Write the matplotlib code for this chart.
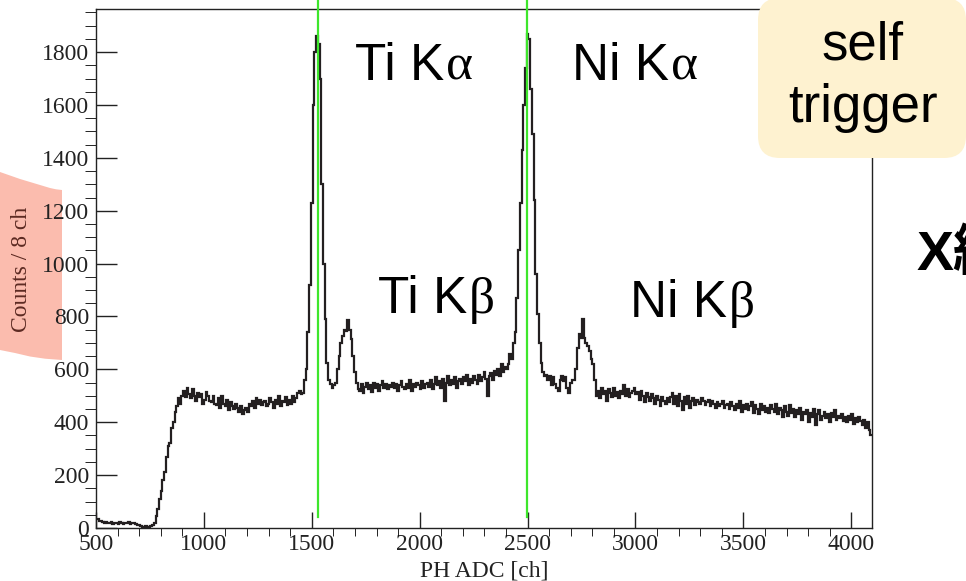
import numpy as np
import matplotlib
matplotlib.use("Agg")
import matplotlib.pyplot as plt
from matplotlib.patches import FancyBboxPatch, Polygon
from matplotlib.transforms import IdentityTransform

# histogram: 8 ch per bin starting at 504
bin_start = 504
bin_width = 8

# 504 - 904: threshold region
counts_low = [35, 25, 28, 22, 20, 24, 18, 20, 22, 16, 18, 20, 15, 22, 18, 15, 20, 18, 24, 16,
              18, 20, 14, 12, 10, 8, 5, 4, 6, 3, 5, 6, 10, 20, 45, 70, 110, 140, 180, 210,
              270, 310, 320, 380, 400, 440, 460, 490, 470, 500]
# 904 - 1456: flat part before Ti
counts_plateau = [520, 495, 530, 505, 490, 525, 500, 480, 510, 495, 505, 470, 485, 515, 500, 480, 475, 500, 470,
                  465, 490, 455, 500, 470, 460, 485, 445, 475, 460, 450, 470, 455, 440, 460, 430, 445, 455, 440,
                  470, 460, 480, 455, 490, 470, 485, 465, 475, 480, 460, 470, 490, 475, 455, 485, 470, 500,
                  460, 480, 475, 495, 465, 485, 470, 500, 475, 490, 510, 520, 505]
# 1456 - 1720: Ti Ka + Ti Kb
counts_ti = [510, 560, 600, 740, 920, 1230, 1600, 1800, 1860, 1830, 1700, 1300, 1000, 790, 625, 560,
             545, 530, 540, 550, 600, 650, 700, 725, 750, 745, 785, 750, 715, 650, 590, 550, 525]
# 1720 - 2400
counts_mid = [520, 545, 510, 535, 550, 525, 540, 515, 550, 530, 545, 520, 540, 555, 530, 545, 525, 540, 535,
              550, 530, 545, 520, 540, 555, 535, 525, 545, 530, 560, 520, 545, 535, 550, 540, 525, 555, 530, 545,
              550, 535, 560, 525, 545, 570, 540, 555, 530, 565, 480, 550, 575, 540, 560, 545, 570, 530, 555, 565,
              545, 570, 555, 580, 540, 565, 550, 575, 560, 545, 580, 555, 570, 590, 565, 500, 575, 585, 560, 595,
              580, 600, 575, 620, 590, 610]
# 2400 - 2584: Ni Ka
counts_ni_a = [600, 620, 660, 640, 700, 740, 870, 1050, 1230, 1430, 1600, 1740, 1870, 1850, 1660, 1490,
               1240, 960, 810, 700, 625, 590, 575]
# 2584 - 2712
counts_gap = [580, 560, 575, 540, 570, 545, 530, 520, 560, 575, 555, 570, 530, 510, 550, 560]
# 2712 - 2832: Ni Kb
counts_ni_b = [560, 600, 680, 735, 720, 790, 720, 700, 690, 670, 640, 620, 560, 500, 520]
# 2832 - 4096: tail
counts_tail = [490, 530, 505, 520, 480, 525, 510, 495, 530, 500, 515, 490, 520, 505, 540, 500, 525, 495, 510, 520,
               530, 505, 515, 485, 520, 500, 475, 510, 495, 480, 505, 490, 470, 500, 485, 460, 495, 480, 470, 490,
               475, 495, 510, 470, 500, 460, 505, 480, 445, 495, 470, 500, 455, 480, 490, 465, 485, 475, 470, 490,
               480, 465, 475, 485, 460, 480, 470, 455, 475, 460, 470, 480, 455, 465, 470, 450, 475, 460, 445, 470,
               455, 480, 440, 465, 450, 470, 445, 460, 475, 435, 465, 450, 430, 470, 445, 460, 440, 455, 435, 465,
               450, 440, 470, 430, 455, 445, 420, 460, 440, 425, 465, 435, 450, 420, 445, 430, 455, 410, 440, 430,
               445, 400, 435, 420, 450, 390, 430, 445, 410, 425, 440, 415, 430, 400, 435, 420, 445, 410, 425, 415,
               430, 405, 420, 400, 425, 410, 430, 395, 415, 400, 420, 405, 390, 410, 380, 400, 370, 350]

counts = np.concatenate([counts_low, counts_plateau, counts_ti, counts_mid,
                         counts_ni_a, counts_gap, counts_ni_b, counts_tail])
edges = bin_start + bin_width * np.arange(len(counts) + 1)

# Ka peak markers
ka_lines = [1529, 2498]

peak_names = ["Ti K", "Ni K", "Ti K", "Ni K"]
peak_greek = ["\u03b1", "\u03b1", "\u03b2", "\u03b2"]
x_ticks = [500, 1000, 1500, 2000, 2500, 3000, 3500, 4000]
y_ticks = [0, 200, 400, 600, 800, 1000, 1200, 1400, 1600, 1800]

W, H = 966, 581
fig = plt.figure(figsize=(W / 100, H / 100), dpi=100)
ax = fig.add_axes([96 / W, 1 - 528 / H, 776 / W, 519 / H])
ax.patch.set_alpha(0)

ax.stairs(counts, edges, baseline=None, color="#231f20", lw=1.6)

for x in ka_lines:
    ax.plot([x, x], [40, 2100], color="#3ee62c", lw=1.6, clip_on=False, zorder=3)

ax.set_xlim(500, 4096)
ax.set_ylim(0, 1963)
ax.set_xticks(x_ticks)
ax.set_yticks(y_ticks)
ax.set_xticks(np.arange(500, 4097, 100), minor=True)
ax.set_yticks(np.arange(0, 1963, 50), minor=True)

serif = "Liberation Serif"
ax.tick_params(direction="in", top=False, right=False, width=1, colors="#222222")
ax.tick_params(axis="y", which="major", length=15, pad=5)
ax.tick_params(axis="y", which="minor", length=8)
ax.tick_params(axis="x", which="major", length=11.5, pad=4)
ax.tick_params(axis="x", which="minor", length=6)
for lab in ax.get_xticklabels() + ax.get_yticklabels():
    lab.set_fontfamily(serif)
    lab.set_fontsize(17)
for s in ax.spines.values():
    s.set_linewidth(1.0)
    s.set_color("#222222")

ident = IdentityTransform()

def px(x, y_top):
    # image pixel (from top) -> display coords
    return (x, H - y_top)

# pink shape behind the y title (part of a slide shape)
pink_pts = [px(0, 172), px(10, 175.5), px(20, 179), px(30, 182), px(40, 185), px(50, 188),
            px(56, 189.3), px(62, 190), px(62, 360), px(45, 358.7), px(30, 356.5),
            px(15, 353), px(0, 350)]
fig.patches.append(Polygon(pink_pts, closed=True, transform=ident,
                           facecolor="#fbbcae", edgecolor="none", zorder=-1))

fig.text(22 / W, 1 - 269 / H, "Counts / 8 ch", rotation=90, ha="center", va="center",
         fontfamily=serif, fontsize=17, color="#5c2a22")
fig.text(484 / W, 1 - 571 / H, "PH ADC [ch]", ha="center", va="center",
         fontfamily=serif, fontsize=17, color="#222222")

# peak labels: latin part in sans, greek letter in serif
sans = "Liberation Sans"
label_pos = [(355, 80), (572, 80), (378, 313), (630, 317)]
renderer = fig.canvas.get_renderer()
for name, greek, (lx, ly) in zip(peak_names, peak_greek, label_pos):
    t = fig.text(lx, H - ly, name, ha="left", va="baseline", transform=ident,
                 fontfamily=sans, fontsize=37, color="black")
    bb = t.get_window_extent(renderer)
    fig.text(bb.x1 + 2, H - ly, greek, ha="left", va="baseline", transform=ident,
             fontfamily=serif, fontsize=37, color="black")

# "self trigger" note
box = FancyBboxPatch((758, H - 158), 208, 160,
                     boxstyle="round,pad=0,rounding_size=22", transform=ident,
                     facecolor="#fef2d0", edgecolor="none", zorder=5)
fig.patches.append(box)
fig.text(863 / W, 1 - 60 / H, "self", ha="center", va="baseline",
         fontfamily=sans, fontsize=38, color="black", zorder=6)
fig.text(863 / W, 1 - 122 / H, "trigger", ha="center", va="baseline",
         fontfamily=sans, fontsize=38, color="black", zorder=6)

fig.text(917 / W, 1 - 270 / H, "X\u7dda", ha="left", va="baseline",
         fontfamily=[sans, "Noto Sans CJK JP"], fontweight="bold", fontsize=40, color="black")

fig.savefig("out.png", dpi=100)
